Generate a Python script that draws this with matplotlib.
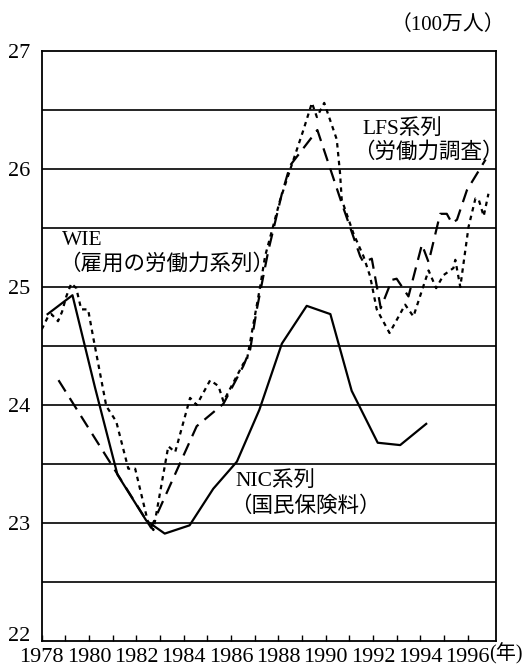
import matplotlib.pyplot as plt
import matplotlib.transforms as mtransforms
import numpy as np

plt.rcParams['font.family'] = ['Liberation Serif', 'Noto Sans CJK JP']

# NIC series (solid)
nic_t = [1978.25, 1979.3, 1980.25, 1981.2, 1982.42, 1983.2, 1984.25, 1985.25,
         1986.25, 1987.2, 1988.15, 1989.2, 1990.2, 1991.1, 1992.2, 1993.15, 1994.25]
nic_v = [24.77, 24.93, 24.15, 23.41, 23.02, 22.91, 22.98, 23.29,
         23.52, 23.96, 24.52, 24.84, 24.77, 24.12, 23.68, 23.66, 23.84]

# LFS series (dashed)
lfs_t = [1978.71, 1982.62, 1984.55, 1985.68, 1986.52, 1986.81, 1987.09, 1987.58,
         1988.15, 1988.5, 1989.65, 1990.68, 1991.46, 1991.6, 1991.95, 1992.33,
         1992.8, 1993.0, 1993.5, 1994.07, 1994.35, 1994.84, 1995.12, 1995.34,
         1995.55, 1995.97, 1996.76]
lfs_v = [24.21, 22.96, 23.82, 24.01, 24.33, 24.47, 24.81, 25.31,
         25.79, 26.03, 26.33, 25.71, 25.26, 25.21, 25.24, 24.82,
         25.06, 25.07, 24.92, 25.36, 25.21, 25.62, 25.62, 25.54,
         25.57, 25.82, 26.08]

# WIE series (dotted)
wie_t = [1978.0, 1978.27, 1978.41, 1978.69, 1978.86, 1979.04, 1979.25, 1979.46,
         1979.67, 1979.96, 1980.17, 1980.73, 1981.15, 1981.66, 1981.95, 1982.5,
         1982.72, 1983.35, 1983.64, 1984.27, 1984.55, 1985.12, 1985.47, 1985.68,
         1986.52, 1986.67, 1987.23, 1987.44, 1988.08, 1988.36, 1989.06, 1989.42,
         1989.63, 1989.94, 1990.47, 1990.61, 1990.68, 1991.18, 1991.6, 1991.88,
         1992.16, 1992.7, 1993.36, 1993.71, 1994.07, 1994.35, 1994.67, 1994.98,
         1995.4, 1995.48, 1995.69, 1996.04, 1996.33, 1996.47, 1996.68, 1996.88]
wie_v = [24.64, 24.75, 24.77, 24.71, 24.79, 24.92, 25.03, 24.99,
         24.81, 24.81, 24.58, 23.99, 23.86, 23.46, 23.46, 23.0,
         22.94, 23.65, 23.6, 24.06, 24.0, 24.21, 24.16, 24.03,
         24.35, 24.38, 25.0, 25.26, 25.74, 25.91, 26.33, 26.56,
         26.44, 26.56, 26.25, 25.96, 25.74, 25.45, 25.26, 25.09,
         24.81, 24.61, 24.85, 24.75, 24.97, 25.14, 24.99, 25.1,
         25.16, 25.23, 25.0, 25.51, 25.75, 25.74, 25.6, 25.79]

year_labels = list(range(1978, 1997, 2))
y_labels = [22, 23, 24, 25, 26, 27]

fig = plt.figure(figsize=(5.22, 6.69), dpi=100)
ax = fig.add_axes([0.0799, 0.0419, 0.8703, 0.8819])

for yy in np.arange(22.5, 27, 0.5):
    ax.axhline(yy, color='black', lw=1.2, zorder=1)

ax.plot(nic_t, nic_v, color='black', lw=1.6, zorder=3)
ax.plot(lfs_t, lfs_v, color='black', lw=1.6, dashes=(6, 3.5), zorder=3)
ax.plot(wie_t, wie_v, color='black', lw=1.6, dashes=(2, 2), zorder=3)

ax.set_xlim(1978, 1997.2)
ax.set_ylim(22, 27)
ax.set_xticks(year_labels)
ax.set_xticklabels([str(y) for y in year_labels])
ax.set_xticks(range(1979, 1997, 2), minor=True)
ax.set_yticks(y_labels)
ax.tick_params(axis='x', which='both', direction='in', length=4, width=1, pad=5,
               labelsize=16)
ax.tick_params(axis='y', length=0, pad=8, labelsize=16)
for s in ax.spines.values():
    s.set_linewidth(1.3)

# lift the bottom "22" a bit so it clears the year labels
lab22 = ax.get_yticklabels()[0]
lab22.set_transform(lab22.get_transform() +
                    mtransforms.ScaledTranslation(0, 5 / 72, fig.dpi_scale_trans))

jp = 15.5
ax.text(1978.86, 25.39, 'WIE', fontsize=jp, va='center', ha='left')
ax.text(1978.72, 25.19, '（雇用の労働力系列）', fontsize=jp, va='center', ha='left')
ax.text(1991.55, 26.34, 'LFS系列', fontsize=jp, va='center', ha='left')
ax.text(1991.15, 26.14, '（労働力調査）', fontsize=jp, va='center', ha='left')
ax.text(1986.18, 23.36, 'NIC系列', fontsize=jp, va='center', ha='left')
ax.text(1985.95, 23.14, '（国民保険料）', fontsize=jp, va='center', ha='left')

fig.text(0.967, 0.962, '（100万人）', fontsize=15, ha='right', va='center')
fig.text(0.937, 0.023, '(年)', fontsize=14.5, ha='left', va='center')

fig.savefig('out.png', dpi=100)
